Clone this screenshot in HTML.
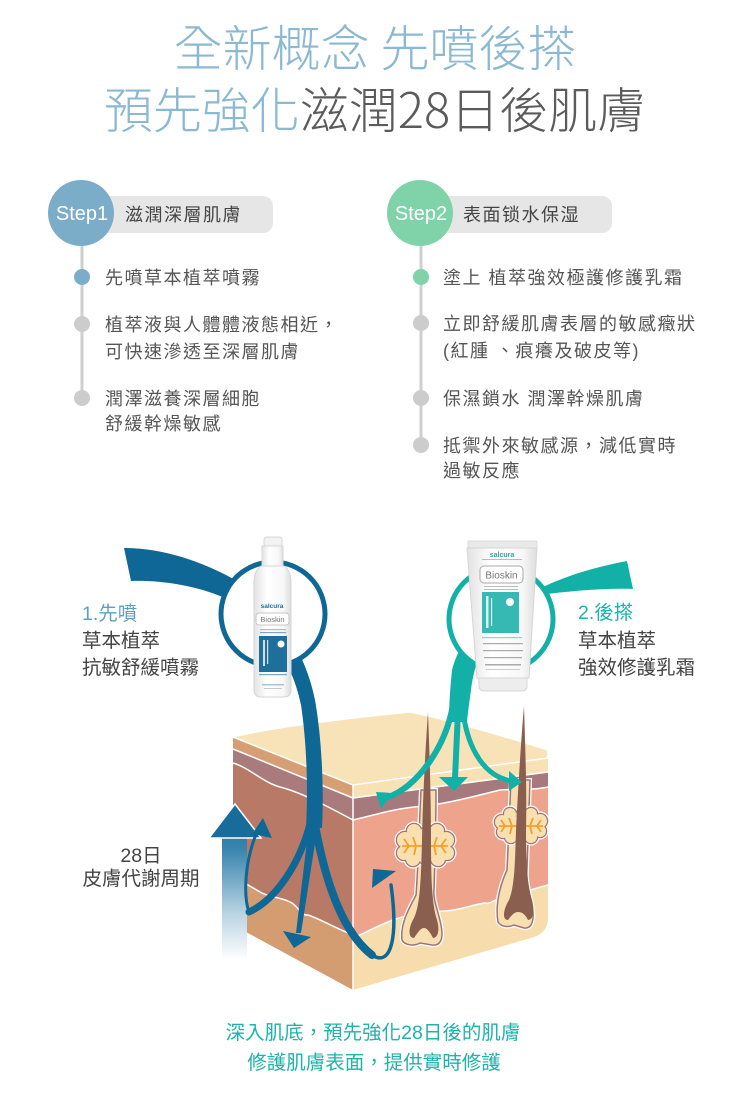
<!DOCTYPE html>
<html><head><meta charset="utf-8"><style>
html,body{margin:0;padding:0;background:#fff;}
svg{display:block;}
text{font-family:"Liberation Sans","Noto Sans CJK TC",sans-serif;}
text.tt{font-family:"Noto Sans CJK TC","Liberation Sans",sans-serif;}
</style></head><body>
<svg width="750" height="1120" viewBox="0 0 750 1120" xmlns="http://www.w3.org/2000/svg">
<defs>
  <linearGradient id="ag" x1="0" y1="805" x2="0" y2="960" gradientUnits="userSpaceOnUse">
    <stop offset="0" stop-color="#136a97"/><stop offset="0.3" stop-color="#3d87b0"/><stop offset="0.7" stop-color="#b9d3e2"/><stop offset="1" stop-color="#ffffff"/>
  </linearGradient>
  <linearGradient id="bg" x1="0" y1="0" x2="1" y2="0">
    <stop offset="0" stop-color="#e2e2e2"/><stop offset="0.35" stop-color="#ffffff"/><stop offset="0.8" stop-color="#f7f7f7"/><stop offset="1" stop-color="#dcdcdc"/>
  </linearGradient>
</defs>

<!-- Title -->
<text class="tt" x="375" y="66" font-size="49" font-weight="300" fill="#8bb9d3" text-anchor="middle">全新概念 先噴後搽</text>
<text class="tt" x="375" y="128" font-size="49" font-weight="300" text-anchor="middle"><tspan fill="#8bb9d3">預先強化</tspan><tspan fill="#5b5b5b">滋潤28日後肌膚</tspan></text>

<!-- Step 1 -->
<rect x="100" y="196" width="173" height="37" rx="10" fill="#e6e6e6"/>
<line x1="82" y1="240" x2="82" y2="398" stroke="#cfcfcf" stroke-width="3"/>
<circle cx="81" cy="213" r="33" fill="#7badc9"/>
<text x="82" y="220" font-size="20" fill="#fff" text-anchor="middle">Step1</text>
<text x="125" y="221" font-size="18" letter-spacing="1.5" fill="#444">滋潤深層肌膚</text>
<circle cx="82" cy="277" r="8" fill="#7badc9"/>
<circle cx="82" cy="324" r="8" fill="#cccccc"/>
<circle cx="82" cy="398" r="8" fill="#cccccc"/>
<g font-size="18" letter-spacing="1.5" fill="#555">
<text x="105" y="284">先噴草本植萃噴霧</text>
<text x="105" y="331">植萃液與人體體液態相近，</text>
<text x="105" y="358">可快速滲透至深層肌膚</text>
<text x="105" y="405">潤澤滋養深層細胞</text>
<text x="105" y="430">舒緩幹燥敏感</text>
</g>

<!-- Step 2 -->
<rect x="440" y="196" width="172" height="37" rx="10" fill="#e6e6e6"/>
<line x1="421" y1="240" x2="421" y2="445" stroke="#cfcfcf" stroke-width="3"/>
<circle cx="420" cy="213" r="33" fill="#80d2a9"/>
<text x="421" y="220" font-size="20" fill="#fff" text-anchor="middle">Step2</text>
<text x="463" y="221" font-size="18" letter-spacing="1.5" fill="#444">表面锁水保湿</text>
<circle cx="421" cy="277" r="8" fill="#80d2a9"/>
<circle cx="421" cy="323" r="8" fill="#cccccc"/>
<circle cx="421" cy="398" r="8" fill="#cccccc"/>
<circle cx="421" cy="445" r="8" fill="#cccccc"/>
<g font-size="18" letter-spacing="1.5" fill="#555">
<text x="443" y="284">塗上 植萃強效極護修護乳霜</text>
<text x="443" y="330">立即舒緩肌膚表層的敏感癥狀</text>
<text x="443" y="357">(紅腫 、痕癢及破皮等)</text>
<text x="443" y="405">保濕鎖水 潤澤幹燥肌膚</text>
<text x="443" y="452">抵禦外來敏感源，減低實時</text>
<text x="443" y="477">過敏反應</text>
</g>

<!-- Skin block: left face -->
<path d="M233,737 L353,785 L353,990 L233,925 Z" fill="#d49c71"/>
<path d="M233,763 C250,768 262,782 280,787 C300,792 325,805 353,820 L353,935 C335,928 318,918 308,915 C300,916 298,905 290,902 C280,897 268,897 260,892 C250,886 240,880 233,878 Z" fill="#b87a67"/>
<path d="M233,749 L353,798 L353,820 C325,805 300,792 280,787 C262,782 250,768 233,763 Z" fill="#a97b7d"/>
<path d="M233,737 L353,785 L353,798 L233,749 Z" fill="#d69f73"/>
<g fill="none" stroke="#fff" stroke-width="1.5">
<path d="M233,749 L353,798"/>
<path d="M233,763 C250,768 262,782 280,787 C300,792 325,805 353,820"/>
<path d="M233,878 C240,880 250,886 260,892 C268,897 280,897 290,902 C298,905 300,916 308,915 C318,918 335,928 353,935"/>
</g>

<!-- front face -->
<path d="M353,785 L548,758 L548,918 Q548,932 534,937 L353,990 Z" fill="#f7ddae"/>
<path d="M353,820 C375,815 395,808 425,806 C450,803 480,795 500,790 C520,789 535,790 548,787 L548,885 C535,888 525,893 510,895 C495,898 490,905 485,903 C470,905 462,910 445,911 C420,913 400,916 388,922 C375,927 365,933 353,938 Z" fill="#eea38d"/>
<path d="M353,798 L548,772 L548,787 C535,790 520,789 500,790 C480,795 450,803 425,806 C395,808 375,815 353,820 Z" fill="#a67a7d"/>
<path d="M353,785 L548,758 L548,772 L353,798 Z" fill="#f8e1b5"/>
<g fill="none" stroke="#fff" stroke-width="1.5">
<path d="M353,798 L548,772"/>
<path d="M353,820 C375,815 395,808 425,806 C450,803 480,795 500,790 C520,789 535,790 548,787"/>
<path d="M353,938 C365,933 375,927 388,922 C400,916 420,913 445,911 C462,910 470,905 485,903 C490,905 495,898 510,895 C525,893 535,888 548,885"/>
<path d="M353,785 L353,990"/>
</g>
<!-- top face -->
<path d="M233,737 C270,728 330,720 410,712 C450,720 500,735 548,750 L548,758 L353,785 Z" fill="#f8e2b8" stroke="#fff" stroke-width="1.5"/>

<!-- hair 1 -->
<path d="M421,790 C419,830 418,870 416,895 C408,910 400,925 402,940 C405,946 415,946 420,943 L432,945 C440,946 444,940 441,925 C438,910 433,900 434,890 C435,860 436,830 436,790 Z" fill="#f7dfb0" stroke="#fff" stroke-width="4"/>
<path d="M421,790 C419,830 418,870 416,895 C408,910 400,925 402,940 C405,946 415,946 420,943 L432,945 C440,946 444,940 441,925 C438,910 433,900 434,890 C435,860 436,830 436,790 Z" fill="#f7dfb0" stroke="#9e7478" stroke-width="1.5"/>
<g>
  <g fill="#fff" stroke="#fff" stroke-width="5">
    <circle cx="405" cy="840" r="8"/><circle cx="404" cy="853" r="7"/><circle cx="413" cy="859" r="7"/><circle cx="414" cy="831" r="7"/><circle cx="425" cy="834" r="6"/><circle cx="425" cy="858" r="6"/><circle cx="437" cy="831" r="7"/><circle cx="446" cy="840" r="8"/><circle cx="447" cy="853" r="7"/><circle cx="438" cy="859" r="7"/>
  </g>
  <g fill="#9e7478" stroke="#9e7478" stroke-width="2.5">
    <circle cx="405" cy="840" r="8"/><circle cx="404" cy="853" r="7"/><circle cx="413" cy="859" r="7"/><circle cx="414" cy="831" r="7"/><circle cx="425" cy="834" r="6"/><circle cx="425" cy="858" r="6"/><circle cx="437" cy="831" r="7"/><circle cx="446" cy="840" r="8"/><circle cx="447" cy="853" r="7"/><circle cx="438" cy="859" r="7"/>
  </g>
  <g fill="#f9e0b0">
    <circle cx="405" cy="840" r="8"/><circle cx="404" cy="853" r="7"/><circle cx="413" cy="859" r="7"/><circle cx="414" cy="831" r="7"/><circle cx="425" cy="834" r="6"/><circle cx="425" cy="858" r="6"/><circle cx="437" cy="831" r="7"/><circle cx="446" cy="840" r="8"/><circle cx="447" cy="853" r="7"/><circle cx="438" cy="859" r="7"/>
    <ellipse cx="425" cy="846" rx="20" ry="12"/>
  </g>
  <path d="M402,846 L448,846 M409,846 l-5,-7 M409,846 l-5,7 M416,846 l-3,-9 M416,846 l-2,9 M434,846 l3,-9 M434,846 l2,9 M441,846 l5,-7 M441,846 l5,7" stroke="#f5a02a" stroke-width="1.8" fill="none"/>
</g>
<path d="M428,712 C429,740 431,790 431,840 C431,880 432,905 437,920 C440,930 438,938 433,938 C430,932 427,928 424,928 C420,928 417,934 414,938 C408,938 408,928 414,918 C420,905 421,880 422,840 C423,790 426,740 428,712 Z" fill="#8b5f50"/>

<!-- hair 2 -->
<path d="M511,780 C509,820 508,850 507,870 C500,885 495,905 498,922 C502,928 510,927 514,925 L524,928 C532,929 535,920 532,905 C529,890 526,880 527,870 C528,840 529,810 530,780 Z" fill="#f7dfb0" stroke="#fff" stroke-width="4"/>
<path d="M511,780 C509,820 508,850 507,870 C500,885 495,905 498,922 C502,928 510,927 514,925 L524,928 C532,929 535,920 532,905 C529,890 526,880 527,870 C528,840 529,810 530,780 Z" fill="#f7dfb0" stroke="#9e7478" stroke-width="1.5"/>
<g>
  <g fill="#fff" stroke="#fff" stroke-width="5">
    <circle cx="502" cy="822" r="7"/><circle cx="503" cy="832" r="6"/><circle cx="511" cy="837" r="6"/><circle cx="510" cy="814" r="6"/><circle cx="521" cy="815" r="5"/><circle cx="521" cy="836" r="5"/><circle cx="531" cy="814" r="6"/><circle cx="540" cy="821" r="7"/><circle cx="540" cy="831" r="6"/><circle cx="531" cy="837" r="6"/>
  </g>
  <g fill="#9e7478" stroke="#9e7478" stroke-width="2.5">
    <circle cx="502" cy="822" r="7"/><circle cx="503" cy="832" r="6"/><circle cx="511" cy="837" r="6"/><circle cx="510" cy="814" r="6"/><circle cx="521" cy="815" r="5"/><circle cx="521" cy="836" r="5"/><circle cx="531" cy="814" r="6"/><circle cx="540" cy="821" r="7"/><circle cx="540" cy="831" r="6"/><circle cx="531" cy="837" r="6"/>
  </g>
  <g fill="#f9e0b0">
    <circle cx="502" cy="822" r="7"/><circle cx="503" cy="832" r="6"/><circle cx="511" cy="837" r="6"/><circle cx="510" cy="814" r="6"/><circle cx="521" cy="815" r="5"/><circle cx="521" cy="836" r="5"/><circle cx="531" cy="814" r="6"/><circle cx="540" cy="821" r="7"/><circle cx="540" cy="831" r="6"/><circle cx="531" cy="837" r="6"/>
    <ellipse cx="521" cy="826" rx="18" ry="10"/>
  </g>
  <path d="M499,826 L543,826 M505,826 l-4,-6 M505,826 l-4,6 M512,826 l-3,-8 M512,826 l-2,8 M530,826 l3,-8 M530,826 l2,8 M537,826 l4,-6 M537,826 l4,6" stroke="#f5a02a" stroke-width="1.8" fill="none"/>
</g>
<path d="M524,706 C525,740 527,790 526,830 C526,860 527,885 532,900 C535,912 533,920 528,920 C525,914 522,912 518,912 C514,912 511,916 508,920 C502,920 503,910 509,900 C515,885 515,860 516,830 C518,790 521,740 524,706 Z" fill="#8b5f50"/>

<!-- 28 day arrow -->
<rect x="222" y="836" width="25" height="124" fill="url(#ag)"/>
<polygon points="209,838 235,804 261,838" fill="#176c99" stroke="#fff" stroke-width="1.5"/>

<!-- blue band & branches -->
<path d="M124,548 C160,548 200,560 235,580 C275,605 305,650 315,700 C322,740 324,790 322,828 L306,828 C308,790 307,745 301,705 C292,660 262,615 225,598 C195,585 160,580 131,581 Z" fill="#0f6795"/>
<g fill="none" stroke="#0f6795" stroke-linecap="round">
  <path d="M311,820 C300,865 275,900 249,912" stroke-width="7"/>
  <path d="M249,912 C243,895 245,860 257,832" stroke-width="3"/>
  <path d="M315,825 C325,880 342,932 372,955" stroke-width="8"/>
  <path d="M372,955 C392,968 398,935 391,885" stroke-width="3.5"/>
</g>
<polygon points="309,824 318,824 301,933 296,933" fill="#0f6795"/>
<polygon points="252,834 272,838 263,818" fill="#0f6795"/>
<polygon points="283,931 311,937 294,948" fill="#0f6795"/>
<polygon points="373,869 396,871 372,888" fill="#0f6795"/>

<!-- teal band & branches -->
<path d="M627,561 C590,568 550,580 520,600 C490,625 474,660 471,690 C469,705 468,712 467,722 L449,722 C449,705 450,690 452,670 C462,630 500,598 540,595 C570,591 605,588 633,589 Z" fill="#12b0a7"/>
<g fill="none" stroke="#12b0a7" stroke-linecap="round">
  <path d="M453,705 C445,750 415,788 388,797" stroke-width="6"/>
  <path d="M458,712 L455,778" stroke-width="6"/>
  <path d="M463,712 C468,750 485,777 512,781" stroke-width="5"/>
</g>
<polygon points="376,792 393,793 381,809" fill="#12b0a7"/>
<polygon points="439,777 468,777 454,791" fill="#12b0a7"/>
<polygon points="509,771 522,782 509,791" fill="#12b0a7"/>

<!-- rings -->
<circle cx="273" cy="614" r="52" fill="#fff" stroke="#0f6795" stroke-width="5"/>
<circle cx="501" cy="619" r="52" fill="#fff" stroke="#12b0a7" stroke-width="5"/>

<!-- spray bottle -->
<rect x="264" y="537" width="18" height="10" rx="3" fill="#f2f2f2" stroke="#d6d6d6"/>
<rect x="262" y="546" width="21" height="20" fill="url(#bg)" stroke="#d6d6d6"/>
<path d="M261,566 L284,566 C289,569 291,575 291,583 L291,690 Q291,697 284,697 L261,697 Q254,697 254,690 L254,583 C254,575 256,569 261,566 Z" fill="url(#bg)" stroke="#d6d6d6"/>
<text x="272" y="608" font-size="6.5" fill="#1b6f9c" text-anchor="middle" font-weight="bold">salcura</text>
<rect x="256" y="613" width="33" height="12" rx="3" fill="#fff" stroke="#b8b8b8" stroke-width="0.8"/>
<text x="272.5" y="622" font-size="7.5" fill="#777" text-anchor="middle">Bioskin</text>
<rect x="260" y="629" width="26" height="1.2" fill="#bbb"/>
<rect x="260" y="632" width="26" height="1.2" fill="#7aa7c2"/>
<rect x="259" y="636" width="28" height="36" fill="#1e6f9c"/>
<circle cx="281" cy="644" r="3.5" fill="#fff"/>
<rect x="263" y="640" width="2" height="26" fill="#cfe2ed"/>
<rect x="267" y="640" width="1.2" height="24" fill="#cfe2ed"/>
<rect x="259" y="674" width="28" height="1.2" fill="#7aa7c2"/>
<rect x="262" y="684" width="22" height="1.5" fill="#a9c4d6"/>
<rect x="264" y="688" width="18" height="1" fill="#c9c9c9"/>

<!-- tube -->
<rect x="468" y="541" width="69" height="7" fill="#e9e9e9" stroke="#d6d6d6" stroke-width="0.8"/>
<path d="M467,548 L537,548 L529,678 L477,678 Z" fill="url(#bg)" stroke="#d6d6d6"/>
<path d="M479,678 L527,678 L527,686 Q527,691 521,691 L485,691 Q479,691 479,686 Z" fill="#ededed" stroke="#d6d6d6"/>
<text x="502" y="557" font-size="7" fill="#2aa9a2" text-anchor="middle" font-weight="bold">salcura</text>
<rect x="482" y="559" width="40" height="1" fill="#bbb"/>
<rect x="480" y="566" width="43" height="17" rx="4" fill="#fff" stroke="#aaa" stroke-width="1"/>
<text x="501.5" y="578.5" font-size="10" fill="#777" text-anchor="middle">Bioskin</text>
<rect x="484" y="586" width="34" height="1" fill="#bbb"/>
<rect x="484" y="589" width="34" height="1" fill="#bbb"/>
<rect x="482" y="592" width="37" height="41" fill="#35b9b2"/>
<circle cx="510" cy="602" r="4" fill="#fff"/>
<rect x="486" y="596" width="2.5" height="32" fill="#d8f2f0"/>
<rect x="491" y="598" width="1.2" height="28" fill="#d8f2f0"/>
<rect x="482" y="637" width="40" height="1.2" fill="#9ccfcb"/>
<rect x="483" y="643" width="40" height="1.2" fill="#aaa"/>
<rect x="483" y="650" width="40" height="1.2" fill="#aaa"/>
<rect x="484" y="657" width="38" height="1.2" fill="#aaa"/>
<rect x="485" y="664" width="36" height="1.5" fill="#aaa"/>
<rect x="486" y="669" width="34" height="1" fill="#ccc"/>

<!-- side labels -->
<text x="82" y="620" font-size="19.5" fill="#5f9fc6">1.先噴</text>
<text x="82" y="647" font-size="19.5" fill="#444">草本植萃</text>
<text x="82" y="674" font-size="19.5" fill="#444">抗敏舒緩噴霧</text>

<text x="578" y="619" font-size="19.5" fill="#1fb3ab">2.後搽</text>
<text x="578" y="647" font-size="19.5" fill="#444">草本植萃</text>
<text x="578" y="674" font-size="19.5" fill="#444">強效修護乳霜</text>

<text x="141" y="862" font-size="19.5" fill="#444" text-anchor="middle">28日</text>
<text x="141" y="885" font-size="19.5" fill="#444" text-anchor="middle">皮膚代謝周期</text>

<!-- bottom text -->
<text x="373" y="1039" font-size="19.5" fill="#1fb3ab" text-anchor="middle">深入肌底，預先強化28日後的肌膚</text>
<text x="374" y="1069" font-size="19.5" fill="#1fb3ab" text-anchor="middle">修護肌膚表面，提供實時修護</text>
</svg>
</body></html>
